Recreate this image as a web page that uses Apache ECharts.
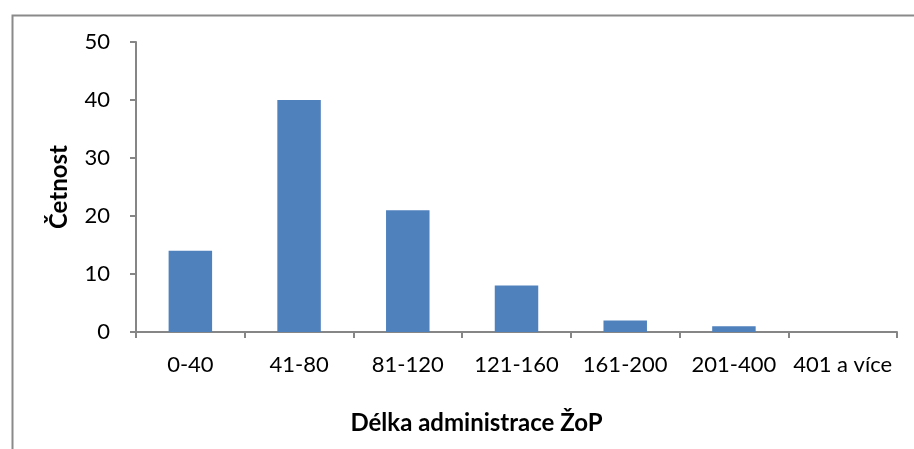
<!DOCTYPE html>
<html>
<head>
<meta charset="utf-8">
<script src="https://cdn.jsdelivr.net/npm/echarts@6/dist/echarts.min.js"></script>
<style>html,body{margin:0;padding:0;background:#fff}#c{width:914px;height:449px}</style>
</head>
<body>
<div id="c"></div>
<script>
const categories = ['0-40','41-80','81-120','121-160','161-200','201-400','401 a více'];
const values = [14, 40, 21, 8, 2, 1, 0];
const yTicks = [0, 10, 20, 30, 40, 50];
const xName = 'Délka administrace ŽoP';
const yName = 'Četnost';

const chart = echarts.init(document.getElementById('c'), null, {renderer:'canvas'});
const axisColor = '#868686';
chart.setOption({
  animation: false,
  backgroundColor: '#fff',
  graphic: [{
    type: 'rect', left: 10, top: 13, z: -1,
    shape: {width: 1000, height: 1000},
    style: {fill: 'none', stroke: '#8a8a8a', lineWidth: 2}
  }],
  grid: {left: 136, right: 17, top: 42, bottom: 117, containLabel: false},
  xAxis: {
    type: 'category',
    data: categories,
    name: xName,
    nameLocation: 'middle',
    nameGap: 79,
    nameTextStyle: {fontFamily: 'Lato', fontSize: 24, fontWeight: 'bold', color: '#000', padding: [0, 80, 0, 0]},
    axisLine: {lineStyle: {color: axisColor, width: 2}},
    axisTick: {show: true, length: 6, lineStyle: {color: axisColor, width: 2}},
    axisLabel: {fontFamily: 'Lato', fontSize: 22, color: '#000', margin: 22, interval: 0}
  },
  yAxis: {
    type: 'value',
    min: 0, max: 50, interval: 10,
    name: yName,
    nameLocation: 'middle',
    nameGap: 65,
    nameRotate: 90,
    nameTextStyle: {fontFamily: 'Lato', fontSize: 24, fontWeight: 'bold', color: '#000'},
    axisLine: {show: true, lineStyle: {color: axisColor, width: 2}},
    axisTick: {show: true, length: 6, lineStyle: {color: axisColor, width: 2}},
    splitLine: {show: false},
    axisLabel: {fontFamily: 'Lato', fontSize: 22, color: '#000', margin: 26,
      formatter: v => yTicks.includes(v) ? String(v) : ''}
  },
  series: [{
    type: 'bar',
    data: values,
    barCategoryGap: '60%',
    itemStyle: {color: '#4F81BD', borderWidth: 0}
  }]
});
</script>
</body>
</html>
